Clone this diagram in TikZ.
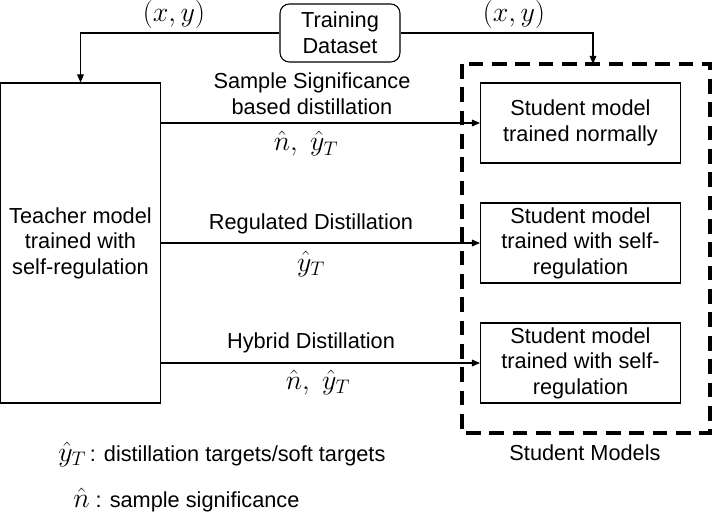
\RequirePackage{fix-cm}
\documentclass[tikz,border=0pt]{standalone}
\usepackage[no-math]{fontspec}
\setmainfont{Liberation Sans}
\usetikzlibrary{arrows.meta}
\newcommand{\mathsz}{\fontsize{21}{24}\selectfont}
\newcommand{\textsz}{\fontsize{16.3}{19.2}\selectfont}
\begin{document}
\begin{tikzpicture}[x=0.75pt,y=-0.75pt,
  txt/.style={font=\textsz, align=center, inner sep=0pt},
  mth/.style={font=\mathsz, inner sep=0pt},
  box/.style={draw, line width=0.8pt, txt},
  conn/.style={line width=0.8pt, -{Triangle[length=6pt,width=5pt]}},
  grp/.style={draw, line width=3pt, dash pattern=on 11pt off 6.5pt}]
\useasboundingbox (0,0) rectangle (713,516);
\fill[white] (0,0) rectangle (713,516);

\node[box, rounded corners=7pt, minimum width=120*0.75pt, minimum height=58*0.75pt] (ds) at (340,33) {Training\\Dataset};
\node[box, minimum width=160*0.75pt, minimum height=320*0.75pt] (teacher) at (80.5,243) {Teacher model\\trained with\\self-regulation};
\draw[grp] (461.5,64) rectangle (710,433);
\coordinate (grptop) at (593,64);

\node[box, minimum width=200*0.75pt, minimum height=80*0.75pt] (s1) at (580.5,123) {Student model\\trained normally};
\node[box, minimum width=200*0.75pt, minimum height=80*0.75pt] (s2) at (580.5,243) {Student model\\trained with self-\\regulation};
\node[box, minimum width=200*0.75pt, minimum height=80*0.75pt] (s3) at (580.5,363) {Student model\\trained with self-\\regulation};

\draw[conn] (ds.west) -| (teacher.north);
\draw[conn] (ds.east) -| (grptop);
\node[mth] (xy1) at (174,14.5) {$(x,y)$};
\node[mth] (xy2) at (514,14.5) {$(x,y)$};

\draw[conn] (teacher.east |- s1.west) -- (s1.west);
\draw[conn] (teacher.east |- s2.west) -- (s2.west);
\draw[conn] (teacher.east |- s3.west) -- (s3.west);

\node[txt] (l1) at (312,94) {Sample Significance\\based distillation};
\node[mth] (m1) at (306,144) {$\hat{n},\ \hat{y}_T$};
\node[txt] (l2) at (311,224) {Regulated Distillation};
\node[mth] (m2) at (311,264) {$\hat{y}_T$};
\node[txt] (l3) at (311,343) {Hybrid Distillation};
\node[mth] (m3) at (318,382) {$\hat{n},\ \hat{y}_T$};

\node[txt] (sm) at (585,453) {Student Models};
\node[txt, anchor=base west] (leg1) at (58,461) {{\mathsz$\hat{y}_T$}\,: distillation targets/soft targets};
\node[txt, anchor=base west] (leg2) at (73,507) {{\mathsz$\hat{n}$}\ : sample significance};
\end{tikzpicture}
\end{document}
